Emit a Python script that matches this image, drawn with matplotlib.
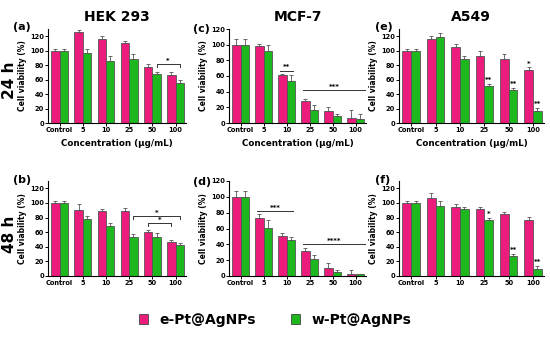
import numpy as np
import matplotlib
matplotlib.use('Agg')
import matplotlib.pyplot as plt
from matplotlib.patches import Rectangle

cats = ['Control', '5', '10', '25', '50', '100']
pink = '#EC1C7C'
green = '#1DB81D'

# (a) HEK 293, 24 h
a_e = [100, 126, 116, 111, 78, 67]
a_w = [100, 97, 86, 88, 68, 55]
a_e_err = [3, 2, 4, 3, 4, 4]
a_w_err = [3, 6, 6, 7, 3, 4]
# (b) HEK 293, 48 h
b_e = [100, 91, 89, 89, 60, 46]
b_w = [100, 78, 69, 54, 54, 42]
b_e_err = [3, 7, 3, 4, 3, 3]
b_w_err = [3, 4, 3, 4, 5, 3]
# (c) MCF-7, 24 h
c_e = [100, 98, 61, 28, 15, 7]
c_w = [100, 92, 53, 17, 9, 5]
c_e_err = [7, 3, 2, 3, 5, 10]
c_w_err = [7, 8, 8, 6, 3, 6]
# (d) MCF-7, 48 h
d_e = [100, 73, 51, 31, 10, 3]
d_w = [100, 61, 45, 21, 5, 2]
d_e_err = [7, 5, 3, 4, 7, 4]
d_w_err = [7, 10, 4, 6, 3, 1]
# (e) A549, 24 h
e_e = [100, 116, 105, 92, 88, 73]
e_w = [100, 119, 88, 51, 46, 17]
e_e_err = [3, 4, 4, 7, 8, 4]
e_w_err = [3, 6, 4, 3, 3, 4]
# (f) A549, 48 h
f_e = [100, 107, 94, 92, 85, 76]
f_w = [100, 96, 92, 76, 27, 10]
f_e_err = [3, 6, 4, 3, 3, 5]
f_w_err = [3, 7, 3, 4, 3, 4]

fig = plt.figure(figsize=(5.5, 3.37), dpi=100)
W, H = 550.0, 337.0

def make_ax(x0, x1, ytop, ybot):
    return fig.add_axes([x0 / W, 1 - ybot / H, (x1 - x0) / W, (ybot - ytop) / H])

bw = 0.36

def panel(ax, e, w, ee, we, ymax, yticks, xlabel=True):
    x = np.arange(len(cats))
    ax.bar(x - bw / 2, e, bw, color=pink, edgecolor='#555555', linewidth=0.6,
           yerr=[np.zeros(len(ee)), ee], error_kw=dict(ecolor='#555555', elinewidth=0.6, capsize=1.5, capthick=0.6))
    ax.bar(x + bw / 2, w, bw, color=green, edgecolor='#555555', linewidth=0.6,
           yerr=[np.zeros(len(we)), we], error_kw=dict(ecolor='#555555', elinewidth=0.6, capsize=1.5, capthick=0.6))
    ax.set_xlim(-0.5, 5.45)
    ax.set_ylim(0, ymax)
    ax.set_yticks(yticks)
    ax.set_xticks(x)
    ax.set_xticklabels(cats)
    for s in ['top', 'right']:
        ax.spines[s].set_visible(False)
    for s in ['left', 'bottom']:
        ax.spines[s].set_linewidth(0.8)
    ax.tick_params(length=2, width=0.7, pad=1, labelsize=4.8)
    for t in ax.get_xticklabels() + ax.get_yticklabels():
        t.set_fontweight('bold')
    ax.set_ylabel('Cell viability (%)', fontsize=5.5, fontweight='bold', labelpad=2)
    if xlabel:
        ax.set_xlabel('Concentration (μg/mL)', fontsize=6.3, fontweight='bold', labelpad=4)

def bracket(ax, x0, x1, y, txt, legs=True):
    if legs:
        ax.plot([x0, x0, x1, x1], [y - 4, y, y, y - 4], color='#333333', lw=0.7)
    else:
        ax.plot([x0, x1], [y, y], color='#333333', lw=0.7)
    ax.text((x0 + x1) / 2, y + 0.5, txt, ha='center', va='bottom', fontsize=5, fontweight='bold')

def star(ax, x, y, txt):
    ax.text(x, y, txt, ha='center', va='bottom', fontsize=5, fontweight='bold')

yt = [0, 20, 40, 60, 80, 100, 120]

ax_a = make_ax(48, 186, 29, 123)
panel(ax_a, a_e, a_w, a_e_err, a_w_err, 130, yt)
bracket(ax_a, 4 + bw / 2, 5 + bw / 2, 81, '*')

ax_c = make_ax(229, 366, 29, 123)
panel(ax_c, c_e, c_w, c_e_err, c_w_err, 120, yt)
bracket(ax_c, 2 - bw / 2 - 0.1, 2 + bw / 2 + 0.1, 67, '**', legs=False)
bracket(ax_c, 2.7, 5.45, 42, '***', legs=False)

ax_e = make_ax(399, 544, 29, 123)
panel(ax_e, e_e, e_w, e_e_err, e_w_err, 130, yt)
for i in [3, 4, 5]:
    star(ax_e, i + bw / 2, e_w[i] + e_w_err[i] + 1, '**')
star(ax_e, 5 - bw / 2, e_e[5] + e_e_err[5] + 1, '*')

ax_b = make_ax(48, 186, 181, 276)
panel(ax_b, b_e, b_w, b_e_err, b_w_err, 130, yt, xlabel=False)
bracket(ax_b, 3 + bw / 2, 5 + bw / 2, 82, '*')
bracket(ax_b, 4 - bw / 2, 5 - bw / 2, 72, '*')

ax_d = make_ax(229, 366, 181, 276)
panel(ax_d, d_e, d_w, d_e_err, d_w_err, 120, yt, xlabel=False)
bracket(ax_d, 0.7, 2.3, 82, '***', legs=False)
bracket(ax_d, 2.7, 5.45, 40, '****', legs=False)

ax_f = make_ax(399, 544, 181, 276)
panel(ax_f, f_e, f_w, f_e_err, f_w_err, 130, yt, xlabel=False)
star(ax_f, 3 + bw / 2, f_w[3] + f_w_err[3] + 1, '*')
for i in [4, 5]:
    star(ax_f, i + bw / 2, f_w[i] + f_w_err[i] + 1, '**')

# column titles, row labels, panel letters
for xc, t in [(117, 'HEK 293'), (298, 'MCF-7'), (471, 'A549')]:
    fig.text(xc / W, 1 - 17 / H, t, ha='center', va='center', fontsize=10, fontweight='bold')
fig.text(9 / W, 1 - 80 / H, '24 h', rotation=90, ha='center', va='center', fontsize=11, fontweight='bold')
fig.text(9 / W, 1 - 234 / H, '48 h', rotation=90, ha='center', va='center', fontsize=11, fontweight='bold')
for xp, yp, t in [(13, 27, '(a)'), (193, 29, '(c)'), (375, 27, '(e)'),
                  (13, 180, '(b)'), (193, 182, '(d)'), (375, 180, '(f)')]:
    fig.text(xp / W, 1 - yp / H, t, ha='left', va='center', fontsize=8, fontweight='bold')

# legend
handles = [Rectangle((0, 0), 1, 1, facecolor=pink, edgecolor='#444444', linewidth=0.6),
           Rectangle((0, 0), 1, 1, facecolor=green, edgecolor='#444444', linewidth=0.6)]
leg = fig.legend(handles, ['e-Pt@AgNPs', 'w-Pt@AgNPs'], loc='center', bbox_to_anchor=(0.5, 1 - 320 / H),
                 ncol=2, frameon=False, prop=dict(size=10, weight='bold'),
                 handlelength=0.7, handleheight=0.7, columnspacing=2.5, handletextpad=0.8)

fig.savefig('out.png', dpi=100)
